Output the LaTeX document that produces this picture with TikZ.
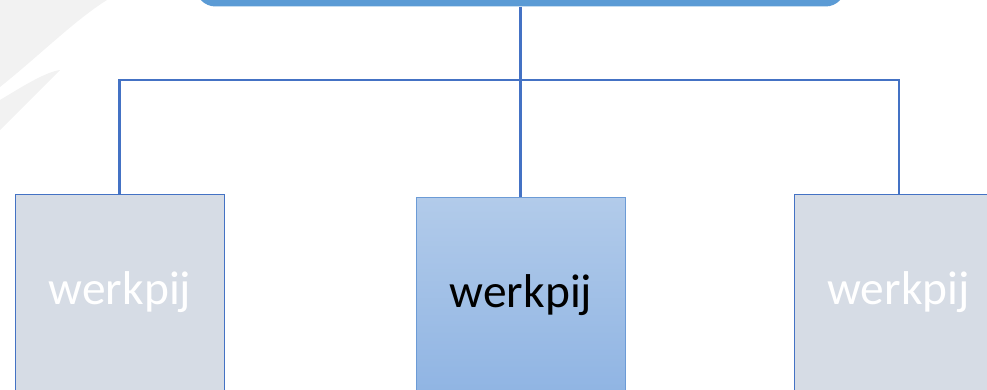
\documentclass[tikz,border=0pt]{standalone}
\usepackage{fontspec}
\setmainfont{Carlito}
\usepackage{tikz}
\usetikzlibrary{positioning,shapes}
\usepackage{xcolor}
\definecolor{wpline}{RGB}{68,114,196}
\definecolor{wproot}{RGB}{91,155,213}
\definecolor{wpgrey}{RGB}{214,220,229}
\definecolor{wptop}{RGB}{178,203,234}
\definecolor{wpbottom}{RGB}{143,180,227}
\definecolor{wpmidline}{RGB}{108,155,214}
\definecolor{wpswoosh}{RGB}{242,242,242}
\tikzstyle{link} = [line width=1.4pt, color=wpline]
\tikzstyle{rootbox} = [rectangle, rounded corners=0.4cm, minimum width=13cm, minimum height=1.6cm, fill=wproot, draw=none]
\tikzstyle{package} = [rectangle, anchor=north, minimum width=4.18cm, minimum height=4cm, draw=wpline, line width=0.5pt, fill=wpgrey]
\tikzstyle{current} = [package, draw=wpmidline, top color=wptop, bottom color=wpbottom]
\tikzstyle{label} = [font=\fontsize{27}{32}\selectfont]

\begin{document}
\begin{tikzpicture}[x=0.02cm, y=-0.02cm]
\useasboundingbox (0,0) rectangle (987,389);
\clip (0,0) rectangle (987,389);

% swooshes in the background
\fill[wpswoosh] (0,0) -- (107,0) .. controls (75,20) and (40,55) .. (0,87) -- cycle;
\fill[wpswoosh] (0,100) .. controls (20,88) and (45,72) .. (60,70)
  .. controls (40,90) and (20,110) .. (0,130) -- cycle;

% top box, mostly outside the view
\node (root) [rootbox] at (520.5,-33.5) {};

% the three work packages
\node (left) [package] at (119.5,194) {};
\node (mid) [current] at (520.5,197) {};
\node (right) [package] at (899,194) {};
\node (lefttext) [label, text=white] at (120,292) {werkpij};
\node (midtext) [label] at (521,295) {werkpij};
\node (righttext) [label, text=white] at (898.5,292) {werkpij};

% connectors
\coordinate (bus) at (520.5,80);
\draw[link] (root.south) -- (mid.north);
\draw[link] (left.north) |- (bus) -| (right.north);
\end{tikzpicture}
\end{document}
